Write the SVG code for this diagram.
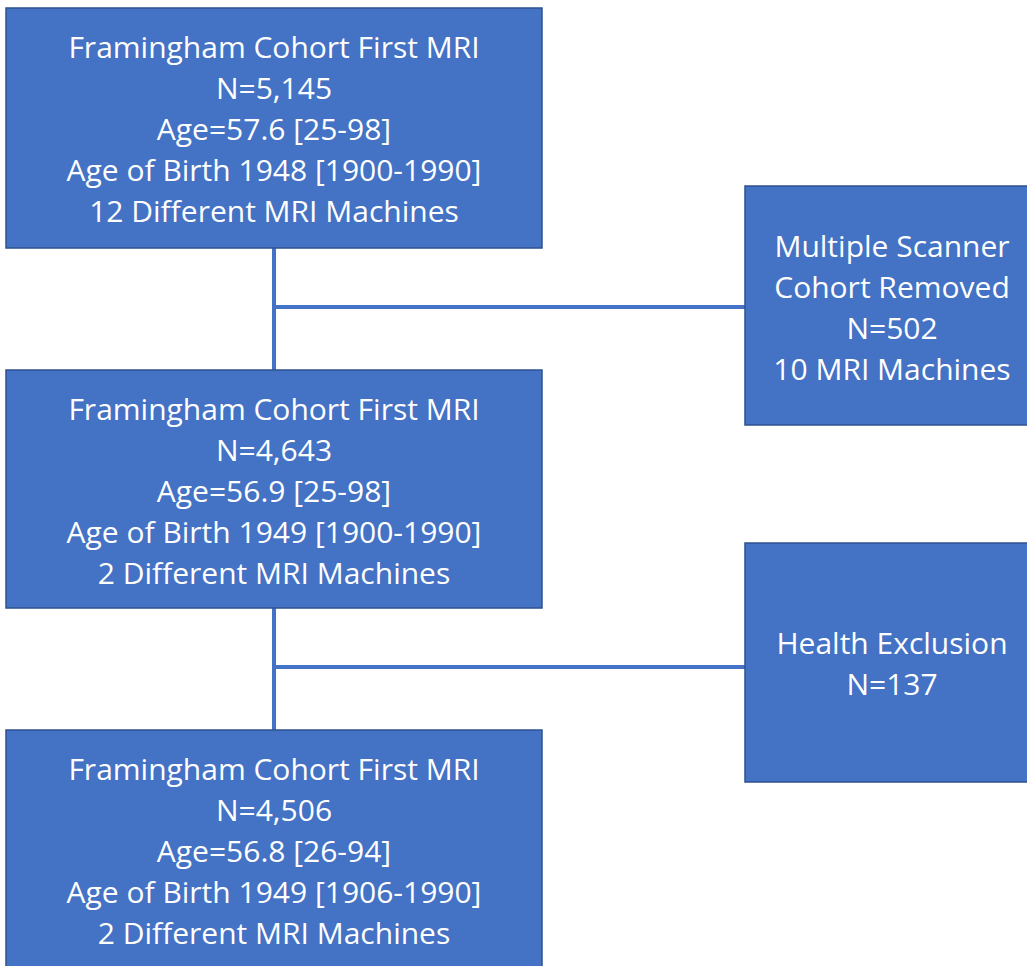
<svg xmlns="http://www.w3.org/2000/svg" width="1027" height="966" viewBox="0 0 1027 966">
<style>
.box{fill:#4472C4;stroke:#2F528F;stroke-width:1.5}
.t{font-family:"Open Sans","Liberation Sans",sans-serif;font-size:30px;fill:#ffffff;text-anchor:middle}
.ln{stroke:#4472C4;stroke-width:4;fill:none}
</style>
<rect width="1027" height="966" fill="#ffffff"/>
<g id="connectors">
<line class="ln" x1="274" y1="248" x2="274" y2="370"/>
<line class="ln" x1="274" y1="307" x2="745" y2="307"/>
<line class="ln" x1="274" y1="608" x2="274" y2="730"/>
<line class="ln" x1="274" y1="667" x2="745" y2="667"/>
</g>
<g id="box1">
<rect class="box" x="6" y="8" width="536" height="240"/>
<text class="t" x="274" y="58">Framingham Cohort First MRI</text>
<text class="t" x="274" y="99">N=5,145</text>
<text class="t" x="274" y="140">Age=57.6 [25-98]</text>
<text class="t" x="274" y="181">Age of Birth 1948 [1900-1990]</text>
<text class="t" x="274" y="222">12 Different MRI Machines</text>
</g>
<g id="box2">
<rect class="box" x="6" y="370" width="536" height="238"/>
<text class="t" x="274" y="420">Framingham Cohort First MRI</text>
<text class="t" x="274" y="461">N=4,643</text>
<text class="t" x="274" y="502">Age=56.9 [25-98]</text>
<text class="t" x="274" y="543">Age of Birth 1949 [1900-1990]</text>
<text class="t" x="274" y="584">2 Different MRI Machines</text>
</g>
<g id="box3">
<rect class="box" x="6" y="730" width="536" height="240"/>
<text class="t" x="274" y="780">Framingham Cohort First MRI</text>
<text class="t" x="274" y="821">N=4,506</text>
<text class="t" x="274" y="862">Age=56.8 [26-94]</text>
<text class="t" x="274" y="903">Age of Birth 1949 [1906-1990]</text>
<text class="t" x="274" y="944">2 Different MRI Machines</text>
</g>
<g id="removed">
<rect class="box" x="745" y="186" width="300" height="239"/>
<text class="t" x="892" y="257">Multiple Scanner</text>
<text class="t" x="892" y="298">Cohort Removed</text>
<text class="t" x="892" y="339">N=502</text>
<text class="t" x="892" y="380">10 MRI Machines</text>
</g>
<g id="health">
<rect class="box" x="745" y="543" width="300" height="239"/>
<text class="t" x="892" y="654">Health Exclusion</text>
<text class="t" x="892" y="695">N=137</text>
</g>
</svg>
